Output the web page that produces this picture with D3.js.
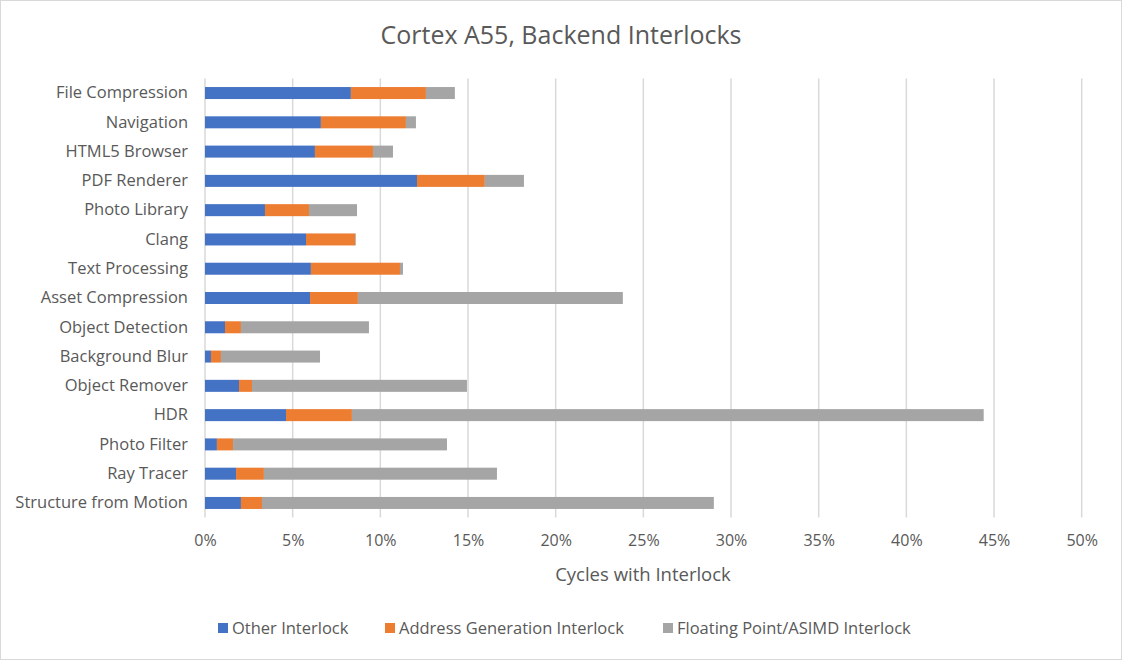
<!DOCTYPE html>
<html>
<head>
<meta charset="utf-8">
<script src="https://cdn.jsdelivr.net/npm/d3@7"></script>
<style>
  body { margin: 0; background: #fff; }
  svg text { font-family: "Open Sans", Lato, sans-serif; fill: #595959; }
</style>
</head>
<body>
<div id="chart"></div>
<script>
// data (percent of cycles)
var categories = ["File Compression", "Navigation", "HTML5 Browser", "PDF Renderer", "Photo Library",
	"Clang", "Text Processing", "Asset Compression", "Object Detection", "Background Blur",
	"Object Remover", "HDR", "Photo Filter", "Ray Tracer", "Structure from Motion"];
var otherInterlock = [8.32, 6.61, 6.27, 12.09, 3.42, 5.76, 6.04, 5.99, 1.14, 0.34, 1.94, 4.62, 0.68, 1.77, 2.05];
var addrGenInterlock = [4.28, 4.85, 3.31, 3.87, 2.51, 2.81, 5.08, 2.73, 0.91, 0.57, 0.74, 3.76, 0.92, 1.59, 1.20];
var fpAsimdInterlock = [1.65, 0.57, 1.14, 2.23, 2.74, 0.04, 0.17, 15.11, 7.30, 5.65, 12.26, 36.03, 12.20, 13.29, 25.77];
var seriesNames = ["Other Interlock", "Address Generation Interlock", "Floating Point/ASIMD Interlock"];
var seriesColors = ["#4472c4", "#ed7d31", "#a5a5a5"];
var xTicks = [0, 5, 10, 15, 20, 25, 30, 35, 40, 45, 50];

var W = 1122, H = 660;
var margin = { top: 78.4, left: 205, right: 40, bottom: 142.4 };

var svg = d3.select("#chart").append("svg")
	.attr("width", W)
	.attr("height", H);

// outer chart border
svg.append("rect")
	.attr("x", 0.5).attr("y", 0.5)
	.attr("width", W - 1).attr("height", H - 1)
	.attr("fill", "#fff")
	.attr("stroke", "#d9d9d9");

var x = d3.scaleLinear().domain([0, 50]).range([margin.left, 1081.7]);
var y = d3.scaleBand().domain(categories)
	.range([margin.top, H - margin.bottom])
	.paddingInner(0.59).paddingOuter(0.295);

// gridlines
svg.append("g").selectAll("line")
	.data(xTicks)
	.enter().append("line")
	.attr("x1", function(d) { return x(d); })
	.attr("x2", function(d) { return x(d); })
	.attr("y1", margin.top)
	.attr("y2", H - margin.bottom)
	.attr("stroke", "#d9d9d9")
	.attr("stroke-width", 1.5);

// stacked bars
var rows = categories.map(function(c, i) {
	return { cat: c, s0: otherInterlock[i], s1: addrGenInterlock[i], s2: fpAsimdInterlock[i] };
});
var stacked = d3.stack().keys(["s0", "s1", "s2"])(rows);

svg.append("g").selectAll("g")
	.data(stacked)
	.enter().append("g")
	.attr("fill", function(d, i) { return seriesColors[i]; })
	.selectAll("rect")
	.data(function(d) { return d; })
	.enter().append("rect")
	.attr("x", function(d) { return x(d[0]); })
	.attr("width", function(d) { return Math.max(0, x(d[1]) - x(d[0])); })
	.attr("y", function(d) { return y(d.data.cat); })
	.attr("height", y.bandwidth());

// x axis labels
var xAxis = d3.axisBottom(x).tickValues(xTicks)
	.tickFormat(function(d) { return d + "%"; })
	.tickSize(0).tickPadding(0);
var gx = svg.append("g")
	.attr("transform", "translate(0," + 535 + ")")
	.call(xAxis);
gx.select(".domain").remove();
gx.selectAll("text").style("font-size", "16px").attr("dy", "0.71em");

// y axis labels
var yAxis = d3.axisLeft(y).tickSize(0).tickPadding(0);
var gy = svg.append("g")
	.attr("transform", "translate(188,0)")
	.call(yAxis);
gy.select(".domain").remove();
gy.selectAll("text").style("font-size", "16.5px");

// title
svg.append("text")
	.attr("x", 561).attr("y", 44)
	.attr("text-anchor", "middle")
	.style("font-size", "25px")
	.text("Cortex A55, Backend Interlocks");

// axis title
svg.append("text")
	.attr("x", 643).attr("y", 581)
	.attr("text-anchor", "middle")
	.style("font-size", "18.5px")
	.text("Cycles with Interlock");

// legend
var legendX = [218, 385, 663];
var lg = svg.append("g").selectAll("g")
	.data(seriesNames)
	.enter().append("g")
	.attr("transform", function(d, i) { return "translate(" + legendX[i] + ",623)"; });
lg.append("rect")
	.attr("width", 10).attr("height", 10)
	.attr("fill", function(d, i) { return seriesColors[i]; });
lg.append("text")
	.attr("x", 14).attr("y", 10.5)
	.style("font-size", "16.5px")
	.text(function(d) { return d; });
</script>
</body>
</html>
